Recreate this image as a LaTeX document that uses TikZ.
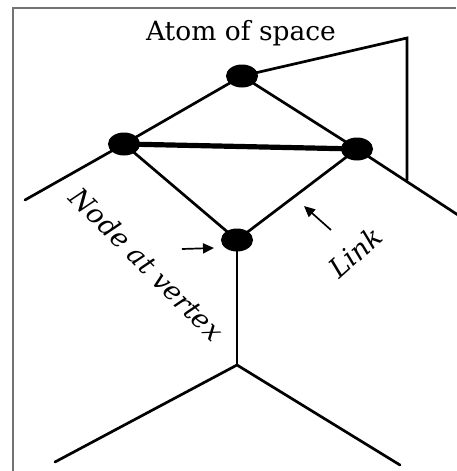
\documentclass[tikz,border=0pt]{standalone}
\usepackage{fontspec}
\setmainfont{DejaVu Serif}
\usetikzlibrary{arrows.meta,shapes.geometric}
\begin{document}
\begin{tikzpicture}[x=1pt,y=-1pt,
  edge/.style={line width=2.7pt,line cap=round},
  thickedge/.style={line width=5.2pt},
  dot/.style={ellipse,fill=black,minimum width=32pt,minimum height=23pt,inner sep=0pt},
  lbl/.style={inner sep=0pt,font=\fontsize{27}{30}\selectfont\itshape},
  pointer/.style={line width=1.7pt,-{Triangle[length=11pt,width=10pt]}},
  frame/.style={line width=1.5pt,draw=black!55}]
\useasboundingbox (0,0) rectangle (456,471);
\draw[frame] (13,471) -- (13,8) -- (456,8);
% vertices
\coordinate (T) at (242,76);
\coordinate (L) at (124,144);
\coordinate (R) at (357,149);
\coordinate (B) at (237,240);
\coordinate (TR) at (407,38);
\coordinate (TRd) at (407,180);
\coordinate (Lout) at (25,200);
\coordinate (Rout) at (458,215);
\coordinate (V) at (237,365);
\coordinate (VL) at (55,462);
\coordinate (VR) at (400,465);
% edges
\draw[edge] (T) -- (TR) -- (TRd);
\draw[edge] (L) -- (Lout);
\draw[edge] (R) -- (Rout);
\draw[edge] (T) -- (L);
\draw[edge] (T) -- (R);
\draw[edge] (L) -- (B);
\draw[edge] (R) -- (B);
\draw[edge] (B) -- (V);
\draw[edge] (VL) -- (V) -- (VR);
\draw[thickedge] (L) -- (R);
% dots
\node[dot] (nT) at (T) {};
\node[dot] (nL) at (L) {};
\node[dot] (nR) at (R) {};
\node[dot] (nB) at (B) {};
% labels
\node[inner sep=0pt,font=\fontsize{26.5}{30}\selectfont] (atom) at (241,33) {Atom of space};
\node[lbl,rotate=-45] (nav) at (147,264) {Node at vertex};
\node[lbl,rotate=42] (link) at (355,252) {Link};
% arrows
\coordinate (a1s) at (182,249);
\coordinate (a1e) at (214,248);
\coordinate (a2s) at (331,230);
\coordinate (a2e) at (304,206);
\draw[pointer] (a1s) -- (a1e);
\draw[pointer] (a2s) -- (a2e);
\end{tikzpicture}
\end{document}
